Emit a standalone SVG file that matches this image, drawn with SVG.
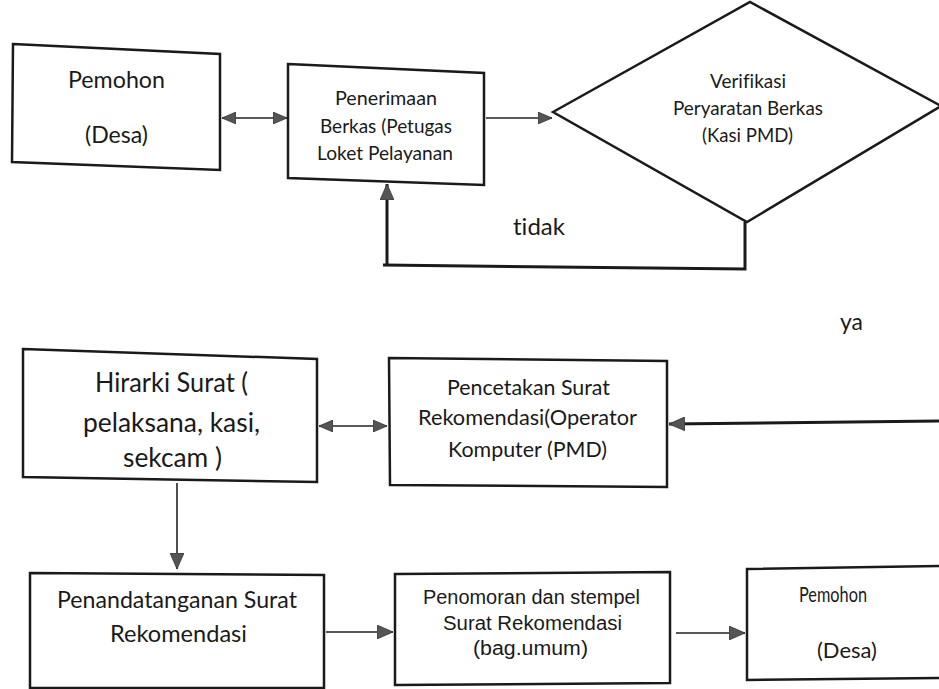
<svg xmlns="http://www.w3.org/2000/svg" width="939" height="689" viewBox="0 0 939 689">
<style>
.box{fill:#fff;stroke:#1a1a1a;stroke-width:2.5;stroke-linejoin:miter}
.t{font-family:Lato,"Open Sans","Liberation Sans",sans-serif;fill:#1a1a1a;font-variant-ligatures:none;font-feature-settings:"liga" 0,"clig" 0}
.a{font-family:"Liberation Sans",Arial,sans-serif;fill:#1a1a1a;font-variant-ligatures:none}
.thin{fill:none;stroke:#222;stroke-width:1.6}
.thick{fill:none;stroke:#1a1a1a;stroke-width:3}
</style>
<defs>
<marker id="ah" viewBox="0 0 14 12" refX="14" refY="6" markerWidth="14" markerHeight="12" markerUnits="userSpaceOnUse" orient="auto-start-reverse">
<path d="M0,0 L14,6 L0,12 z" fill="#555" stroke="#333" stroke-width="0.8"/>
</marker>
<marker id="ahb" viewBox="0 0 16 14" refX="16" refY="7" markerWidth="16" markerHeight="14" markerUnits="userSpaceOnUse" orient="auto">
<path d="M0,0 L16,7 L0,14 z" fill="#555" stroke="#333" stroke-width="0.8"/>
</marker>
</defs>
<rect width="939" height="689" fill="#fff"/>

<g id="connectors">
<line class="thin" x1="222" y1="118" x2="287" y2="118" marker-start="url(#ah)" marker-end="url(#ah)"/>
<line class="thin" x1="486" y1="118" x2="552" y2="118" marker-end="url(#ah)"/>
<polyline class="thick" points="745,222 745,269 383,265"/>
<line class="thick" x1="387" y1="265" x2="387" y2="184" marker-end="url(#ahb)"/>
<line class="thick" x1="939" y1="421" x2="669" y2="424" marker-end="url(#ahb)"/>
<line class="thin" x1="319" y1="426" x2="387" y2="426" marker-start="url(#ah)" marker-end="url(#ah)"/>
<line class="thin" x1="177" y1="483" x2="177" y2="569" marker-end="url(#ahb)"/>
<line class="thin" x1="326" y1="632" x2="393" y2="632" marker-end="url(#ahb)"/>
<line class="thin" x1="676" y1="633" x2="745" y2="633" marker-end="url(#ahb)"/>
</g>

<g id="pemohon1">
<polygon class="box" points="13,44 220,54 220,170 12,162"/>
<text class="t" x="68" y="88" font-size="24" textLength="97" lengthAdjust="spacingAndGlyphs">Pemohon</text>
<text class="t" x="85" y="143" font-size="24" textLength="63" lengthAdjust="spacingAndGlyphs">(Desa)</text>
</g>

<g id="penerimaan">
<polygon class="box" points="288,64 484,73 484,185 288,178"/>
<text class="t" x="335" y="105" font-size="20" textLength="102" lengthAdjust="spacingAndGlyphs">Penerimaan</text>
<text class="t" x="320" y="133" font-size="20" textLength="132" lengthAdjust="spacingAndGlyphs">Berkas (Petugas</text>
<text class="t" x="317" y="160" font-size="20" textLength="136" lengthAdjust="spacingAndGlyphs">Loket Pelayanan</text>
</g>

<g id="verifikasi">
<polygon class="box" points="553,112 750,2 941,106 747,222"/>
<text class="t" x="710" y="88" font-size="19" textLength="76" lengthAdjust="spacingAndGlyphs">Verifikasi</text>
<text class="t" x="673" y="115" font-size="19" textLength="150" lengthAdjust="spacingAndGlyphs">Peryaratan Berkas</text>
<text class="t" x="702" y="142" font-size="19" textLength="91" lengthAdjust="spacingAndGlyphs">(Kasi PMD)</text>
</g>

<g id="labels">
<text class="t" x="513" y="235" font-size="24" textLength="52" lengthAdjust="spacingAndGlyphs">tidak</text>
<text class="t" x="840" y="330" font-size="23" textLength="23" lengthAdjust="spacingAndGlyphs">ya</text>
</g>

<g id="hirarki">
<polygon class="box" points="23,349 317,359 317,482 23,477"/>
<text class="t" x="95" y="392" font-size="26" textLength="153" lengthAdjust="spacingAndGlyphs">Hirarki Surat (</text>
<text class="t" x="83" y="432" font-size="26" textLength="177" lengthAdjust="spacingAndGlyphs">pelaksana, kasi,</text>
<text class="t" x="123" y="467" font-size="26" textLength="99" lengthAdjust="spacingAndGlyphs">sekcam )</text>
</g>

<g id="pencetakan">
<polygon class="box" points="389,358 667,361 667,487 390,485"/>
<text class="t" x="447" y="395" font-size="21" textLength="163" lengthAdjust="spacingAndGlyphs">Pencetakan Surat</text>
<text class="t" x="418" y="425" font-size="21" textLength="219" lengthAdjust="spacingAndGlyphs">Rekomendasi(Operator</text>
<text class="t" x="448" y="457" font-size="21" textLength="159" lengthAdjust="spacingAndGlyphs">Komputer (PMD)</text>
</g>

<g id="penandatanganan">
<polygon class="box" points="30,573 324,575 324,688 30,688"/>
<text class="t" x="57" y="608" font-size="23" textLength="240" lengthAdjust="spacingAndGlyphs">Penandatanganan Surat</text>
<text class="t" x="110" y="642" font-size="23" textLength="137" lengthAdjust="spacingAndGlyphs">Rekomendasi</text>
</g>

<g id="penomoran">
<polygon class="box" points="395,574 670,572 670,683 395,685"/>
<text class="a" x="423" y="604" font-size="19.5" textLength="217" lengthAdjust="spacingAndGlyphs">Penomoran dan stempel</text>
<text class="a" x="443" y="630" font-size="19.5" textLength="179" lengthAdjust="spacingAndGlyphs">Surat Rekomendasi</text>
<text class="a" x="473" y="655" font-size="19.5" textLength="115" lengthAdjust="spacingAndGlyphs">(bag.umum)</text>
</g>

<g id="pemohon2">
<polygon class="box" points="747,569 945,566 945,678 747,680"/>
<text class="t" x="799" y="602" font-size="21" textLength="68" lengthAdjust="spacingAndGlyphs">Pemohon</text>
<text class="t" x="817" y="658" font-size="21" textLength="60" lengthAdjust="spacingAndGlyphs">(Desa)</text>
</g>
</svg>
